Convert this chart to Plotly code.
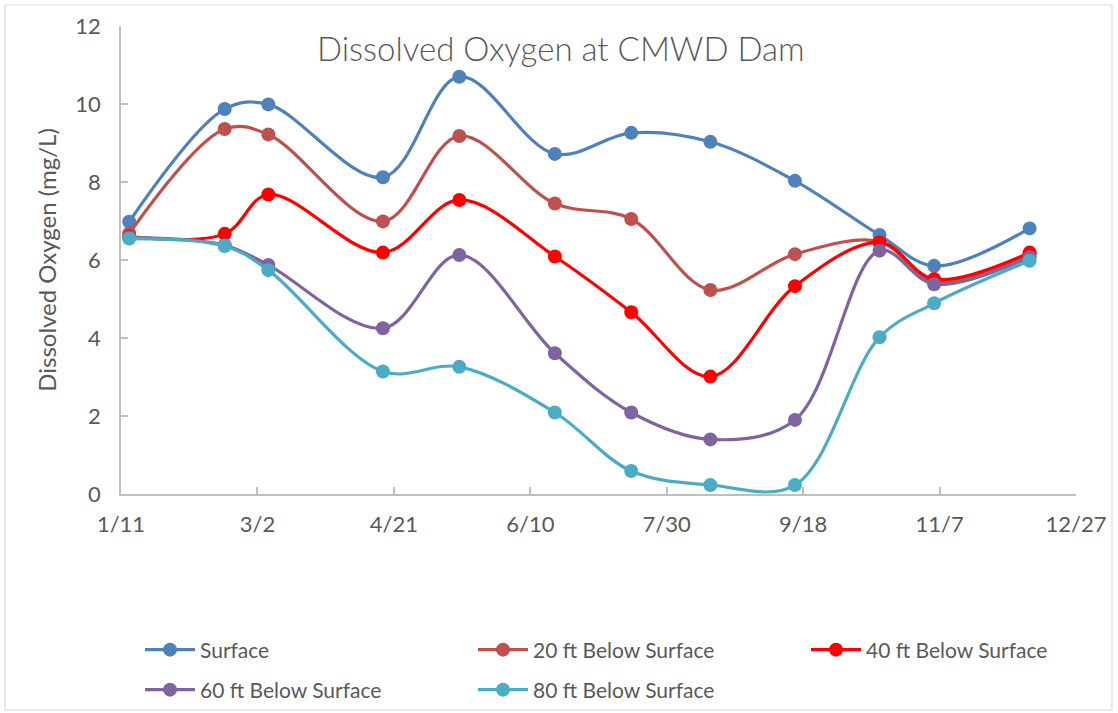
import plotly.graph_objects as go

dates = ["2015-01-14", "2015-02-18", "2015-03-06", "2015-04-17", "2015-05-15", "2015-06-19",
         "2015-07-17", "2015-08-15", "2015-09-15", "2015-10-16", "2015-11-05", "2015-12-10"]

surface = [6.98, 9.87, 9.99, 8.12, 10.70, 8.72, 9.26, 9.03, 8.03, 6.64, 5.85, 6.81]
ft20 = [6.68, 9.36, 9.22, 6.99, 9.18, 7.45, 7.05, 5.23, 6.15, 6.47, 5.45, 6.15]
ft40 = [6.60, 6.67, 7.68, 6.19, 7.54, 6.09, 4.66, 3.01, 5.33, 6.45, 5.51, 6.19]
ft60 = [6.58, 6.38, 5.87, 4.25, 6.13, 3.61, 2.09, 1.40, 1.90, 6.24, 5.38, 6.07]
ft80 = [6.55, 6.36, 5.74, 3.14, 3.26, 2.09, 0.59, 0.23, 0.23, 4.02, 4.89, 5.98]

series_names = ["Surface", "20 ft Below Surface", "40 ft Below Surface",
                "60 ft Below Surface", "80 ft Below Surface"]
series_values = [surface, ft20, ft40, ft60, ft80]
colors = ["#4F81BD", "#C0504D", "#FF0000", "#8064A2", "#4BACC6"]
legend_ids = ["legend", "legend", "legend", "legend2", "legend2"]
legend_widths = [268, 268, 220, 268, 220]

title_text = "Dissolved Oxygen at CMWD Dam"
y_title = "Dissolved Oxygen (mg/L)"

FONT = "Lato"
TXT = "#595959"

fig = go.Figure()
for name, vals, col, lg, lw in zip(series_names, series_values, colors, legend_ids, legend_widths):
    fig.add_trace(go.Scatter(
        x=dates, y=vals, name=name, mode="lines+markers",
        line=dict(color=col, width=3.2, shape="spline", smoothing=1.0),
        marker=dict(color=col, size=14),
        legend=lg, legendwidth=lw,
    ))

W, H = 1118, 713
L, R, T, B = 121, 42, 26, 219
pw, ph = W - L - R, H - T - B

def px_x(px):
    return (px - L) / pw

def px_y(py):
    return (H - B - py) / ph

fig.update_layout(
    width=W, height=H,
    margin=dict(l=L, r=R, t=T, b=B, autoexpand=False),
    paper_bgcolor="white", plot_bgcolor="white",
    font=dict(family=FONT, color=TXT, size=20),
    showlegend=True,
    legend=dict(orientation="h", x=px_x(140), xanchor="left", y=px_y(650), yanchor="middle",
                font=dict(family=FONT, size=21, color=TXT), itemwidth=50,
                bgcolor="rgba(0,0,0,0)"),
    legend2=dict(orientation="h", x=px_x(140), xanchor="left", y=px_y(690), yanchor="middle",
                 font=dict(family=FONT, size=21, color=TXT), itemwidth=50,
                 bgcolor="rgba(0,0,0,0)"),
    xaxis=dict(
        type="date", range=["2015-01-11", "2015-12-27"],
        tick0="2015-01-11", dtick=50 * 86400000, tickformat="%-m/%-d",
        showgrid=False, zeroline=False, showline=True, linecolor="#BFBFBF", linewidth=1.5,
        ticks="inside", ticklen=7, tickcolor="#BFBFBF", tickwidth=1.5,
        tickfont=dict(family=FONT, size=22, color=TXT), ticklabelstandoff=10,
    ),
    yaxis=dict(
        range=[0, 12], dtick=2, tick0=0,
        showgrid=False, zeroline=False, showline=True, linecolor="#BFBFBF", linewidth=1.5,
        ticks="inside", ticklen=7, tickcolor="#BFBFBF", tickwidth=1.5,
        tickfont=dict(family=FONT, size=22, color=TXT), ticklabelstandoff=14,
        title=dict(text=y_title, font=dict(family=FONT, size=24, color=TXT), standoff=12),
    ),
    shapes=[dict(type="rect", xref="paper", yref="paper",
                 x0=px_x(5), x1=px_x(1112), y0=px_y(710), y1=px_y(5),
                 line=dict(color="#D9D9D9", width=1.2), fillcolor="rgba(0,0,0,0)", layer="below")],
    annotations=[dict(text=title_text, xref="paper", yref="paper",
                      x=px_x(561), y=px_y(48), xanchor="center", yanchor="middle",
                      showarrow=False, font=dict(family=FONT, size=33, color=TXT, weight=300))],
)

fig.write_html("out.html", config={"displayModeBar": False},
               post_script="document.body.style.margin='0';")
